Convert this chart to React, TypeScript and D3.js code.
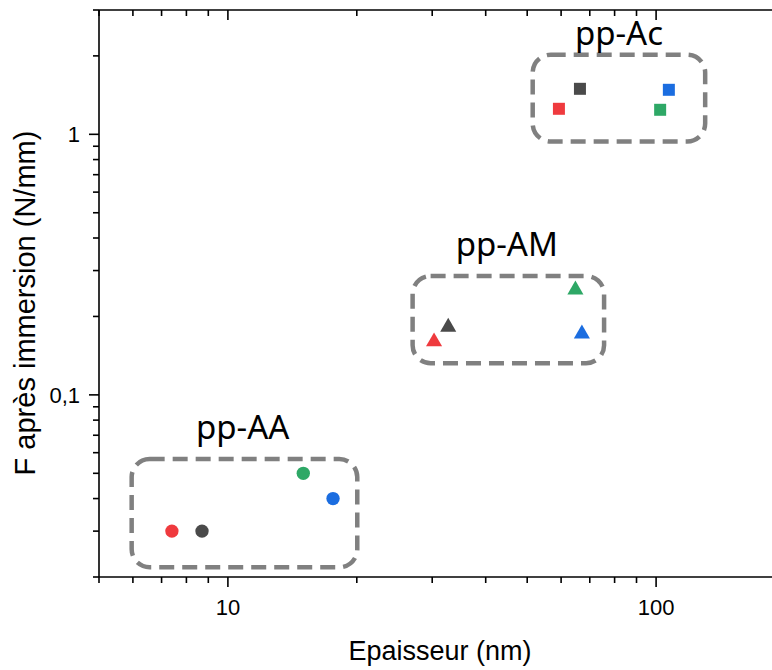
import React from "react";
import * as d3 from "d3";

// ---- data ----
const groupNames = ["pp-AA", "pp-AM", "pp-Ac"];
const seriesColorNames = ["rouge", "noir", "vert", "bleu"];

const ppAA_x = [7.4, 8.7, 15.0, 17.6];
const ppAA_y = [0.03, 0.03, 0.05, 0.04];
const ppAM_x = [30.3, 32.7, 64.8, 67.1];
const ppAM_y = [0.16, 0.182, 0.253, 0.1715];
const ppAc_x = [59.3, 66.4, 102.2, 107.1];
const ppAc_y = [1.253, 1.495, 1.242, 1.482];

// annotation boxes (data coordinates)
const boxX0 = [5.96, 27.0, 51.5];
const boxX1 = [20.05, 75.6, 130.2];
const boxY0 = [0.0218, 0.1323, 0.938];
const boxY1 = [0.0567, 0.286, 2.02];
const labelX = [10.83, 44.8, 81.9];
const labelY = [0.0676, 0.3417, 2.206];

const xDomain = [5, 200];
const yDomain = [0.02, 3];
const xMajor = [10, 100];
const xMajorLabels = ["10", "100"];
const yMajor = [0.1, 1];
const yMajorLabels = ["0,1", "1"];

const xTitle = "Epaisseur (nm)";
const yTitle = "F après immersion (N/mm)";

const COLORS: Record<string, string> = {
  rouge: "#EF3A3E",
  noir: "#4A4A4A",
  vert: "#2EA866",
  bleu: "#1B6DE0",
};

export default function App() {
  const W = 772, H = 670;
  const L = 99, T = 10, B = 577;
  const x = d3.scaleLog().domain(xDomain).range([L, 785]);
  const y = d3.scaleLog().domain(yDomain).range([B, T]);

  const xMinor = x.ticks(20).filter((v) => !xMajor.some((m) => Math.abs(m - v) < 1e-9));
  const yMinor = y.ticks(20).filter((v) => !yMajor.some((m) => Math.abs(m - v) < 1e-9));

  const groups = [
    { xs: ppAA_x, ys: ppAA_y, sym: d3.symbolCircle, size: 140 },
    { xs: ppAM_x, ys: ppAM_y, sym: d3.symbolTriangle, size: 112 },
    { xs: ppAc_x, ys: ppAc_y, sym: d3.symbolSquare, size: 144 },
  ];

  const axisFont = "'Liberation Sans', Arial, sans-serif";
  const labelFont = "'Noto Sans', 'Open Sans', sans-serif";

  return (
    <svg
      width={W}
      height={H}
      style={{ position: "absolute", left: 0, top: 0, background: "#fff" }}
    >
      <rect x={0} y={0} width={W} height={H} fill="#fff" />
      {/* boxes */}
      {groupNames.map((g, i) => (
        <rect
          key={"box" + g}
          x={x(boxX0[i])}
          y={y(boxY1[i])}
          width={x(boxX1[i]) - x(boxX0[i])}
          height={y(boxY0[i]) - y(boxY1[i])}
          rx={18}
          ry={18}
          fill="none"
          stroke="#808080"
          strokeWidth={4.5}
          strokeDasharray="15 8"
        />
      ))}
      {groupNames.map((g, i) => (
        <text
          key={"lab" + g}
          x={x(labelX[i])}
          y={y(labelY[i])}
          textAnchor="middle"
          fontFamily={labelFont}
          fontSize={33}
          fill="#000"
        >
          {g}
        </text>
      ))}
      {/* points */}
      {groups.map((grp, gi) =>
        grp.xs.map((xv, k) => (
          <path
            key={"p" + gi + "-" + k}
            d={d3.symbol().type(grp.sym).size(grp.size)() as string}
            transform={`translate(${x(xv)},${y(grp.ys[k])})`}
            fill={COLORS[seriesColorNames[k]]}
          />
        ))
      )}
      {/* axes lines */}
      <g stroke="#000" strokeWidth={1.6} fill="none">
        <line x1={L} x2={W} y1={B} y2={B} />
        <line x1={L} x2={W} y1={T} y2={T} />
        <line x1={L} x2={L} y1={T} y2={B} />
        {/* bottom ticks outward */}
        {xMajor.map((v) => (
          <line key={"xb" + v} x1={x(v)} x2={x(v)} y1={B} y2={B + 10} />
        ))}
        {xMinor.map((v) => (
          <line key={"xbm" + v} x1={x(v)} x2={x(v)} y1={B} y2={B + 6} />
        ))}
        {/* top ticks inward */}
        {xMajor.map((v) => (
          <line key={"xt" + v} x1={x(v)} x2={x(v)} y1={T} y2={T + 10} />
        ))}
        {xMinor.map((v) => (
          <line key={"xtm" + v} x1={x(v)} x2={x(v)} y1={T} y2={T + 6} />
        ))}
        {/* left ticks outward */}
        {yMajor.map((v) => (
          <line key={"yl" + v} x1={L - 10} x2={L} y1={y(v)} y2={y(v)} />
        ))}
        {yMinor.map((v) => (
          <line key={"ylm" + v} x1={L - 6} x2={L} y1={y(v)} y2={y(v)} />
        ))}
      </g>
      {/* tick labels */}
      {xMajor.map((v, i) => (
        <text
          key={"xl" + v}
          x={x(v)}
          y={615}
          textAnchor="middle"
          fontFamily={axisFont}
          fontSize={22}
          fill="#000"
        >
          {xMajorLabels[i]}
        </text>
      ))}
      {yMajor.map((v, i) => (
        <text
          key={"yl" + v}
          x={80}
          y={y(v)}
          dy="0.36em"
          textAnchor="end"
          fontFamily={axisFont}
          fontSize={22}
          fill="#000"
        >
          {yMajorLabels[i]}
        </text>
      ))}
      {/* titles */}
      <text
        x={440}
        y={660}
        textAnchor="middle"
        fontFamily={axisFont}
        fontSize={27}
        fill="#000"
      >
        {xTitle}
      </text>
      <text
        transform={`translate(35,303) rotate(-90)`}
        textAnchor="middle"
        fontFamily={axisFont}
        fontSize={29}
        fill="#000"
      >
        {yTitle}
      </text>
    </svg>
  );
}
